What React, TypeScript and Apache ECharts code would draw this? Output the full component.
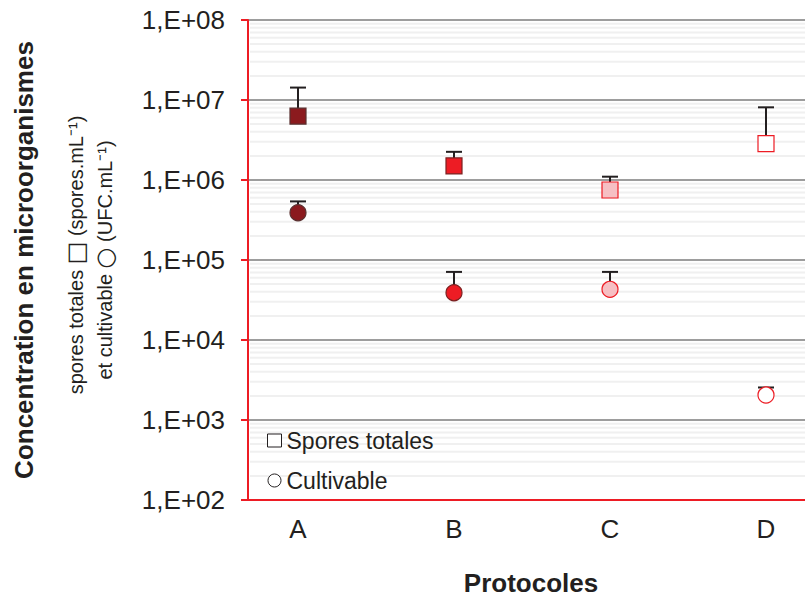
import React, { useEffect, useRef } from "react";
import * as echarts from "echarts";

const categories = ["A", "B", "C", "D"];
const sporesTotales = [6.3e6, 1.5e6, 7.5e5, 2.85e6];
const sporesUpper = [1.43e7, 2.25e6, 1.1e6, 8.1e6];
const cultivable = [3.9e5, 3.9e4, 4.3e4, 2.05e3];
const cultivableUpper = [5.4e5, 7.1e4, 7.1e4, 2.55e3];
const yTickExponents = [2, 3, 4, 5, 6, 7, 8];

const fills = ["#8B1A1E", "#ED1C24", "#F6BFC3", "#FFFFFF"];
const borders = ["#5a3030", "#7a2020", "#ED1C24", "#ED1C24"];

const FONT = "'Liberation Sans', Arial, sans-serif";
const TXT = "#231f20";
const RED = "#ED1C24";

export default function App() {
  const ref = useRef<HTMLDivElement>(null);
  useEffect(() => {
    if (!ref.current) return;
    const chart = echarts.init(ref.current, null, { renderer: "svg" });

    const minorLines: number[][] = [];
    for (let e = 2; e < 8; e++) {
      for (let m = 2; m <= 9; m++) minorLines.push([1, m * Math.pow(10, e)]);
    }

    const mk = (vals: number[]) =>
      vals.map((v, i) => ({
        value: [i + 1, v],
        itemStyle: { color: fills[i], borderColor: borders[i], borderWidth: 1.2, opacity: 1 },
      }));

    const errData = [
      ...sporesTotales.map((v, i) => [i + 1, v, sporesUpper[i]]),
      ...cultivable.map((v, i) => [i + 1, v, cultivableUpper[i]]),
    ];

    const option: any = {
      animation: false,
      textStyle: { fontFamily: FONT },
      grid: { left: 248, right: 0, top: 20, bottom: 97 },
      legend: {
        orient: "vertical",
        left: 262,
        top: 424,
        itemWidth: 14,
        itemHeight: 13,
        itemGap: 17,
        textStyle: { fontSize: 23, color: TXT, fontFamily: FONT },
        data: [
          { name: "Spores totales", icon: "rect", itemStyle: { color: "#fff", borderColor: "#231f20", borderWidth: 1 } },
          { name: "Cultivable", icon: "circle", itemStyle: { color: "#fff", borderColor: "#231f20", borderWidth: 1 } },
        ],
      },
      xAxis: {
        type: "value",
        min: 0.6795,
        max: 4.25,
        axisLine: { show: true, onZero: false, lineStyle: { color: RED, width: 2 } },
        axisTick: { show: false },
        splitLine: { show: false },
        axisLabel: {
          customValues: [1, 2, 3, 4],
          formatter: (v: number) => categories[Math.round(v) - 1] ?? "",
          fontSize: 26,
          color: TXT,
          fontFamily: FONT,
          margin: 16,
        },
      },
      yAxis: {
        type: "log",
        logBase: 10,
        min: 100,
        max: 1e8,
        splitNumber: 6,
        axisLine: { show: true, onZero: false, lineStyle: { color: RED, width: 2 } },
        axisTick: { show: true, length: 7, lineStyle: { color: RED, width: 2 } },
        splitLine: { show: true, lineStyle: { color: "#9d9d9d", width: 2 } },
        axisLabel: {
          fontSize: 26,
          color: TXT,
          fontFamily: FONT,
          margin: 23,
          formatter: (v: number) => {
            const e = Math.round(Math.log10(v));
            if (!yTickExponents.includes(e)) return "";
            return "1,E+" + (e < 10 ? "0" : "") + e;
          },
        },
      },
      series: [
        {
          name: "minor",
          type: "custom",
          z: -1,
          silent: true,
          data: minorLines,
          renderItem: (params: any, api: any) => {
            const p = api.coord([1, api.value(1)]);
            const cs = params.coordSys;
            return {
              type: "line",
              shape: { x1: cs.x + 2, y1: p[1], x2: cs.x + cs.width, y2: p[1] },
              style: { stroke: "#f0f0f0", lineWidth: 2 },
            };
          },
        },
        {
          name: "err",
          type: "custom",
          z: 2,
          silent: true,
          data: errData,
          renderItem: (params: any, api: any) => {
            const x = api.value(0);
            const p0 = api.coord([x, api.value(1)]);
            const p1 = api.coord([x, api.value(2)]);
            const st = { stroke: "#231f20", lineWidth: 2 };
            return {
              type: "group",
              children: [
                { type: "line", shape: { x1: p0[0], y1: p0[1], x2: p1[0], y2: p1[1] }, style: st },
                { type: "line", shape: { x1: p1[0] - 8, y1: p1[1], x2: p1[0] + 8, y2: p1[1] }, style: st },
              ],
            };
          },
        },
        {
          name: "Spores totales",
          type: "scatter",
          symbol: "rect",
          symbolSize: 16,
          z: 3,
          itemStyle: { opacity: 1 },
          data: mk(sporesTotales),
        },
        {
          name: "Cultivable",
          type: "scatter",
          symbol: "circle",
          symbolSize: 16,
          z: 3,
          itemStyle: { opacity: 1 },
          data: mk(cultivable),
        },
      ],
      graphic: [
        {
          type: "text",
          x: 24,
          y: 260,
          rotation: Math.PI / 2,
          style: {
            text: "Concentration en microorganismes",
            fontSize: 26,
            fontWeight: "bold",
            fontFamily: FONT,
            fill: TXT,
            align: "center",
            verticalAlign: "middle",
          },
        },
        {
          type: "text",
          x: 76,
          y: 255,
          rotation: Math.PI / 2,
          style: {
            text: "{t|spores totales }{s|□}{t| (spores.mL⁻¹)}",
            align: "center",
            verticalAlign: "middle",
            rich: {
              t: { fontSize: 20, fontFamily: FONT, fill: TXT },
              s: { fontSize: 24, fontFamily: "'DejaVu Sans'", fill: TXT },
            },
          },
        },
        {
          type: "text",
          x: 105,
          y: 260,
          rotation: Math.PI / 2,
          style: {
            text: "{t|et cultivable }{s|○}{t| (UFC.mL⁻¹)}",
            align: "center",
            verticalAlign: "middle",
            rich: {
              t: { fontSize: 20, fontFamily: FONT, fill: TXT },
              s: { fontSize: 24, fontFamily: "'DejaVu Sans'", fill: TXT },
            },
          },
        },
        {
          type: "text",
          x: 531,
          y: 583,
          style: {
            text: "Protocoles",
            fontSize: 26,
            fontWeight: "bold",
            fontFamily: FONT,
            fill: TXT,
            align: "center",
            verticalAlign: "middle",
          },
        },
      ],
    };
    chart.setOption(option);
    return () => chart.dispose();
  }, []);
  return (
    <div
      ref={ref}
      style={{ position: "fixed", left: 0, top: 0, width: 805, height: 597, background: "#fff" }}
    />
  );
}
